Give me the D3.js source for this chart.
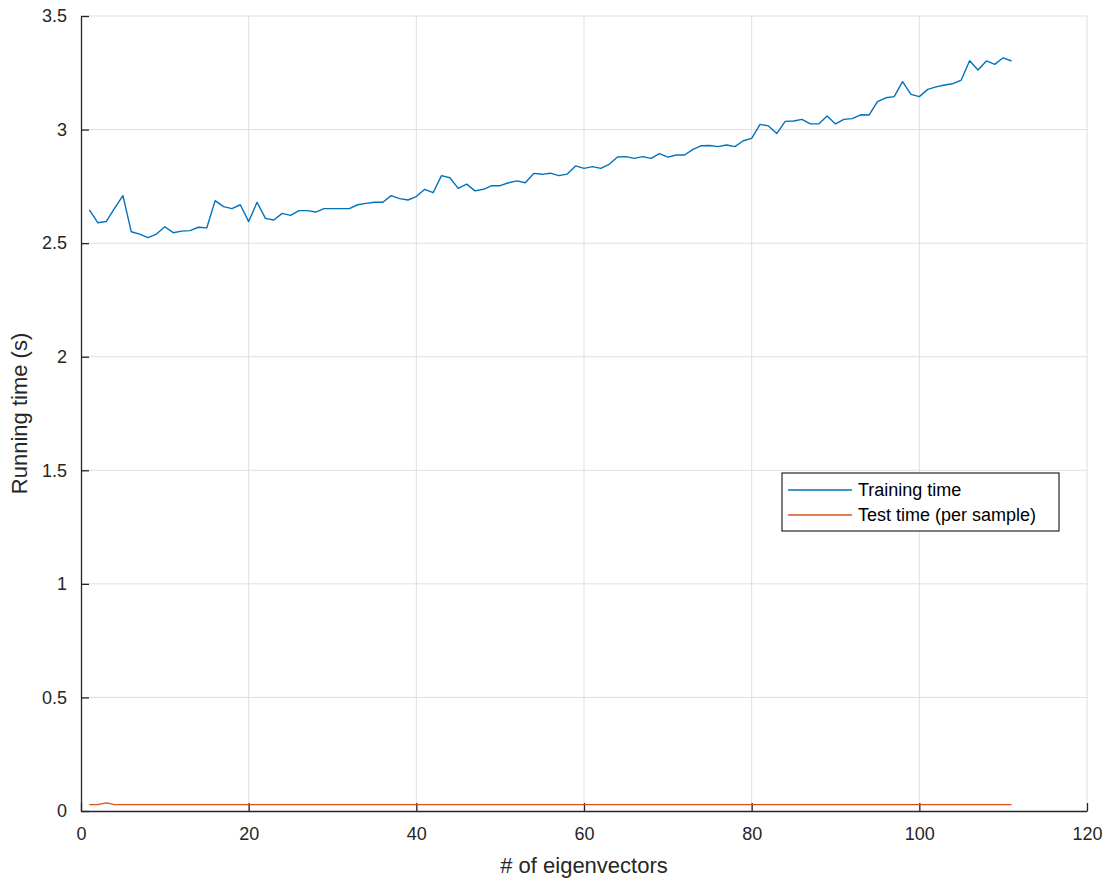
<!DOCTYPE html>
<html>
<head>
<meta charset="utf-8">
<script src="https://cdn.jsdelivr.net/npm/d3@7"></script>
<style>
    body { margin: 0; background: #fff; }
    svg { display: block; font-family: "Liberation Sans", Arial, sans-serif; }
</style>
</head>
<body>
<script>
// number of eigenvectors (x values)
const eigenCounts = d3.range(1, 112);

// training time in seconds
const trainingTime = [
    2.646, 2.590, 2.595, 2.653, 2.709, 2.550, 2.540, 2.524, 2.540, 2.572,
    2.546, 2.553, 2.555, 2.570, 2.567, 2.687, 2.661, 2.652, 2.669, 2.595,
    2.680, 2.609, 2.602, 2.631, 2.622, 2.643, 2.643, 2.637, 2.652, 2.652,
    2.652, 2.652, 2.669, 2.675, 2.680, 2.680, 2.709, 2.696, 2.690, 2.705,
    2.737, 2.722, 2.797, 2.788, 2.741, 2.760, 2.730, 2.737, 2.753, 2.753,
    2.766, 2.774, 2.766, 2.807, 2.803, 2.808, 2.797, 2.804, 2.840, 2.829,
    2.837, 2.829, 2.847, 2.879, 2.881, 2.873, 2.881, 2.873, 2.894, 2.879,
    2.888, 2.888, 2.913, 2.929, 2.930, 2.925, 2.932, 2.925, 2.951, 2.961,
    3.023, 3.016, 2.983, 3.036, 3.038, 3.045, 3.025, 3.025, 3.060, 3.025,
    3.045, 3.048, 3.065, 3.064, 3.123, 3.140, 3.145, 3.211, 3.155, 3.145,
    3.177, 3.188, 3.196, 3.202, 3.218, 3.303, 3.262, 3.302, 3.287, 3.316,
    3.302
];

// test time per sample, almost flat
const testTime = eigenCounts.map(n => n === 3 ? 0.036 : 0.028);

const xTicks = [0, 20, 40, 60, 80, 100, 120];
const yTicks = [0, 0.5, 1, 1.5, 2, 2.5, 3, 3.5];

const seriesNames = ['Training time', 'Test time (per sample)'];
const seriesColors = ['#0072BD', '#D95319'];

const width = 1111;
const height = 879;
const margin = { top: 16, right: 24, bottom: 68, left: 81 };

const svg = d3.select('body').append('svg')
    .attr('width', width)
    .attr('height', height);

const x = d3.scaleLinear()
    .domain([0, 120])
    .range([margin.left, width - margin.right]);

const y = d3.scaleLinear()
    .domain([0, 3.5])
    .range([height - margin.bottom, margin.top]);

const axisColor = '#262626';

// Gitter
const grid = svg.append('g').attr('class', 'grid');
grid.selectAll('.gx')
    .data(xTicks.filter(d => d > 0))
    .enter()
    .append('line')
    .attr('x1', d => x(d)).attr('x2', d => x(d))
    .attr('y1', y(0)).attr('y2', y(3.5))
    .attr('stroke', '#dfdfdf')
    .attr('stroke-width', 1);
grid.selectAll('.gy')
    .data(yTicks.filter(d => d > 0))
    .enter()
    .append('line')
    .attr('x1', x(0)).attr('x2', x(120))
    .attr('y1', d => y(d)).attr('y2', d => y(d))
    .attr('stroke', '#dfdfdf')
    .attr('stroke-width', 1);

// Tengelyek - ticks point inward like MATLAB
const xAxis = svg.append('g')
    .attr('transform', `translate(0, ${y(0)})`)
    .call(d3.axisBottom(x).tickValues(xTicks).tickSize(-8).tickPadding(16).tickSizeOuter(0));

const yAxis = svg.append('g')
    .attr('transform', `translate(${x(0)}, 0)`)
    .call(d3.axisLeft(y).tickValues(yTicks).tickSize(-8).tickPadding(14).tickSizeOuter(0)
        .tickFormat(d => d3.format('')(d)));

[xAxis, yAxis].forEach(a => {
    a.select('.domain').attr('stroke', axisColor).attr('stroke-width', 1.3);
    a.selectAll('.tick line').attr('stroke', axisColor).attr('stroke-width', 1.3);
    a.selectAll('.tick text')
        .attr('fill', axisColor)
        .style('font-size', '18px')
        .style('font-family', '"Liberation Sans", Arial, sans-serif');
});

// Axis labels
svg.append('text')
    .attr('x', (x(0) + x(120)) / 2)
    .attr('y', 873)
    .attr('text-anchor', 'middle')
    .attr('fill', axisColor)
    .style('font-size', '22px')
    .text('# of eigenvectors');

svg.append('text')
    .attr('transform', `translate(27, ${(y(0) + y(3.5)) / 2}) rotate(-90)`)
    .attr('text-anchor', 'middle')
    .attr('fill', axisColor)
    .style('font-size', '22px')
    .text('Running time (s)');

// Lines
const line = d3.line()
    .x((d, i) => x(eigenCounts[i]))
    .y(d => y(d));

[trainingTime, testTime].forEach((series, i) => {
    svg.append('path')
        .datum(series)
        .attr('fill', 'none')
        .attr('stroke', seriesColors[i])
        .attr('stroke-width', 1.4)
        .attr('stroke-linejoin', 'round')
        .attr('d', line);
});

// Legend
const legend = svg.append('g').attr('transform', 'translate(782, 473)');
legend.append('rect')
    .attr('width', 277)
    .attr('height', 58)
    .attr('fill', '#fff')
    .attr('stroke', '#262626')
    .attr('stroke-width', 1.2);

seriesNames.forEach((name, i) => {
    const rowY = 17 + i * 25;
    legend.append('line')
        .attr('x1', 6).attr('x2', 70)
        .attr('y1', rowY).attr('y2', rowY)
        .attr('stroke', seriesColors[i])
        .attr('stroke-width', 1.4);
    legend.append('text')
        .attr('x', 76)
        .attr('y', rowY)
        .attr('dy', '0.35em')
        .attr('fill', '#000')
        .style('font-size', '18px')
        .text(name);
});
</script>
</body>
</html>
